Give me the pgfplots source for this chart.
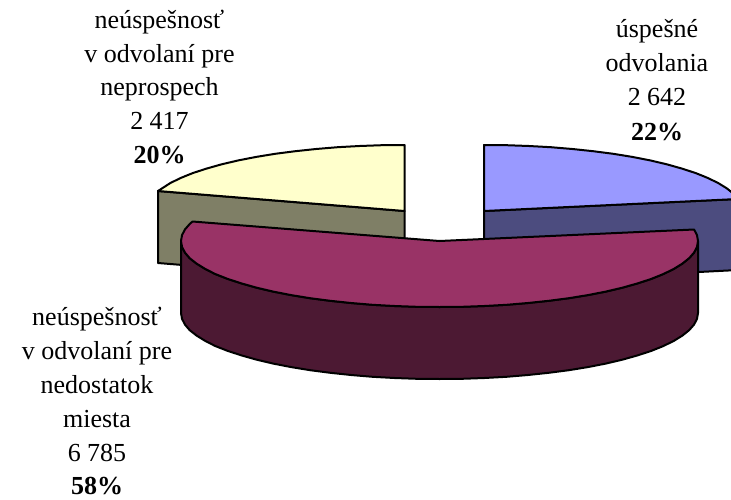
\documentclass[border=0pt]{standalone}
\usepackage{pgfplots}
\pgfplotsset{compat=1.18}
\usepackage{fontspec}
\setmainfont{Liberation Serif}
\definecolor{yt}{HTML}{FFFFCC}
\definecolor{ys}{HTML}{7F7F66}
\definecolor{bt}{HTML}{9999FF}
\definecolor{bs}{HTML}{4C4C7F}
\definecolor{mt}{HTML}{993366}
\definecolor{ms}{HTML}{4C1933}
\tikzset{lab/.style={anchor=base, inner sep=0pt, font=\fontsize{26}{30}\selectfont}}
\begin{document}
\begin{tikzpicture}
\useasboundingbox (0,0) rectangle (731pt,499pt);
\begin{axis}[
  at={(0,0)}, anchor=south west,
  scale only axis, width=731pt, height=499pt,
  xmin=0, xmax=731, ymin=0, ymax=499, y dir=reverse,
  hide axis, clip=true,
  every axis plot/.append style={draw=black, line width=2pt, line join=round, mark=none},
]
% yellow side
\addplot[fill=ys] coordinates {(158,191)(404.5,211)(404.5,283)(158,263)} --cycle;
% yellow top
\addplot[fill=yt] coordinates {(404.5,211)(404.5,145)(382,145.2)(359.6,146)(337.6,147.2)(316.1,149)(295.3,151.2)(275.2,153.8)(256.2,156.9)(238.3,160.4)(221.7,164.3)(206.5,168.6)(192.7,173.1)(180.6,178)(170.2,183.1)(158,191)} --cycle;
% blue side
\addplot[fill=bs] coordinates {(484,211)(738,199)(738,270)(484,283)} --cycle;
% blue top
\addplot[fill=bt] coordinates {(484,211)(484,145)(506.5,145.2)(528.9,146)(550.9,147.2)(572.4,149)(593.2,151.2)(613.3,153.8)(632.3,156.9)(650.2,160.4)(666.8,164.3)(682,168.6)(695.8,173.1)(707.9,178)(718.3,183.1)(726.9,188.4)(733.7,193.9)(738,199)} --cycle;
% maroon side
\addplot[fill=ms] coordinates {(181,241)(182,246.8)(184.9,252.5)(189.6,258.1)(196.6,263.6)(205.2,268.9)(215.2,274)(227.7,278.9)(241.5,283.4)(256.7,287.7)(273.3,291.6)(291.2,295.1)(310.2,298.2)(330.3,300.8)(351.1,303)(372.6,304.8)(394.6,306)(417,306.8)(439.5,307)(462,306.8)(484.4,306)(506.4,304.8)(527.9,303)(548.7,300.8)(568.8,298.2)(587.8,295.1)(605.7,291.6)(622.3,287.7)(637.5,283.4)(651.3,278.9)(663.4,274)(673.8,268.9)(682.4,263.6)(689.2,258.1)(694.1,252.5)(697,246.8)(698,241)
(698,313)(697,318.8)(694.1,324.5)(689.2,330.1)(682.4,335.6)(673.8,340.9)(663.4,346)(651.3,350.9)(637.5,355.4)(622.3,359.7)(605.7,363.6)(587.8,367.1)(568.8,370.2)(548.7,372.8)(527.9,375)(506.4,376.8)(484.4,378)(462,378.8)(439.5,379)(417,378.8)(394.6,378)(372.6,376.8)(351.1,375)(330.3,372.8)(310.2,370.2)(291.2,367.1)(273.3,363.6)(256.7,359.7)(241.5,355.4)(227.7,350.9)(215.2,346)(205.2,340.9)(196.6,335.6)(189.6,330.1)(184.9,324.5)(182,318.8)(181,313)} --cycle;
% maroon top
\addplot[fill=mt] coordinates {(439.5,241)(192.5,221.5)(189.8,223.9)(184.9,229.5)(182,235.2)(181,241)(182,246.8)(184.9,252.5)(189.6,258.1)(196.6,263.6)(205.2,268.9)(215.2,274)(227.7,278.9)(241.5,283.4)(256.7,287.7)(273.3,291.6)(291.2,295.1)(310.2,298.2)(330.3,300.8)(351.1,303)(372.6,304.8)(394.6,306)(417,306.8)(439.5,307)(462,306.8)(484.4,306)(506.4,304.8)(527.9,303)(548.7,300.8)(568.8,298.2)(587.8,295.1)(605.7,291.6)(622.3,287.7)(637.5,283.4)(651.3,278.9)(663.4,274)(673.8,268.9)(682.4,263.6)(689.2,258.1)(694.1,252.5)(697,246.8)(698,241)(697,235.2)(694.1,229.5)} --cycle;
\end{axis}
\begin{axis}[
  at={(0,0)}, anchor=south west,
  scale only axis, width=731pt, height=499pt,
  xmin=0, xmax=731, ymin=0, ymax=499, y dir=reverse,
  hide axis, clip=false,
]
\node[lab] at (axis cs:159.5,28) {neúspešnosť};
\node[lab] at (axis cs:159.5,62) {v odvolaní pre};
\node[lab] at (axis cs:159.5,95) {neprospech};
\node[lab] at (axis cs:159.5,129) {2 417};
\node[lab] at (axis cs:159.5,163) {\textbf{20\%}};
\node[lab] at (axis cs:657,37) {úspešné};
\node[lab] at (axis cs:657,71) {odvolania};
\node[lab] at (axis cs:657,105) {2 642};
\node[lab] at (axis cs:657,140) {\textbf{22\%}};
\node[lab] at (axis cs:97,325) {neúspešnosť};
\node[lab] at (axis cs:97,359) {v odvolaní pre};
\node[lab] at (axis cs:97,393) {nedostatok};
\node[lab] at (axis cs:97,427) {miesta};
\node[lab] at (axis cs:97,461) {6 785};
\node[lab] at (axis cs:97,494) {\textbf{58\%}};
\end{axis}
\end{tikzpicture}
\end{document}
